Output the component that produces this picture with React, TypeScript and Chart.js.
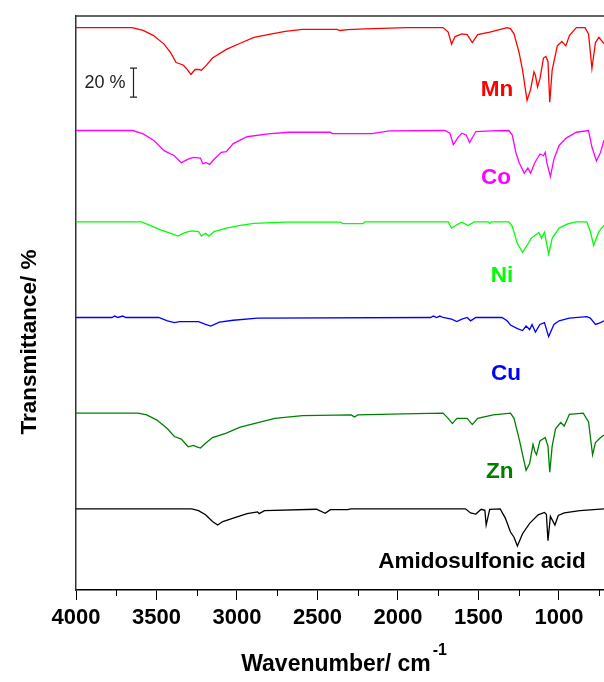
import { useEffect, useRef } from "react";
import { Chart, registerables } from "chart.js";

Chart.register(...registerables);

// ---- axis ticks ----
const X_TICKS = [4000, 3500, 3000, 2500, 2000, 1500, 1000];
const X_MINOR_TICKS = [3750, 3250, 2750, 2250, 1750, 1250, 750];

// ---- series (wavenumber / transmittance %, baseline = 100) ----
const WN_MN = [4000, 3652, 3583, 3518, 3453, 3411, 3378, 3335, 3314, 3286, 3260, 3239, 3221, 3195, 3152, 3066, 2980, 2894, 2808, 2700, 2593, 2380, 2360, 2312, 2205, 1947, 1720, 1688, 1667, 1645, 1603, 1570, 1538, 1505, 1429, 1387, 1322, 1301, 1279, 1247, 1226, 1198, 1176, 1155, 1146, 1133, 1118, 1096, 1081, 1068, 1057, 1042, 1010, 982, 957, 935, 892, 838, 816, 795, 773, 752, 720];
const T_MN = [100, 100, 98.1, 94.5, 88.6, 82.6, 75.9, 74.2, 71.8, 67.7, 71.1, 71.1, 70.6, 73.4, 79, 85, 89.2, 93.3, 95.2, 97.4, 98.8, 98.8, 98, 98.6, 99.1, 100, 100, 96.9, 88.6, 93.8, 95.7, 95.2, 89.7, 95.2, 96.9, 98.1, 100, 99.3, 95.7, 82.6, 70.6, 49.8, 57.4, 69.4, 67, 59.1, 64.6, 79, 80.1, 76.6, 48.6, 70.6, 87.4, 90.4, 87.4, 94.5, 100, 100, 95.7, 71.8, 89.7, 93.3, 89];

const WN_CO = [4000, 3647, 3583, 3518, 3453, 3389, 3346, 3303, 3271, 3227, 3212, 3191, 3169, 3142, 3098, 3066, 3023, 2937, 2808, 2678, 2420, 2409, 2162, 2054, 1710, 1677, 1656, 1624, 1603, 1576, 1555, 1516, 1419, 1311, 1290, 1268, 1247, 1215, 1193, 1176, 1150, 1118, 1096, 1085, 1075, 1053, 1031, 999, 957, 892, 816, 795, 767, 741, 720];
const T_CO = [100, 100, 97.7, 93.3, 86.1, 82.6, 77.8, 80.2, 81.4, 80.9, 77.1, 77.8, 76.6, 80.2, 85, 85.4, 91, 95.7, 97.7, 98.8, 98.8, 97.9, 97.9, 99.8, 100, 98.1, 90.2, 95.6, 98.1, 96.9, 91.7, 99.3, 99.7, 100, 96.9, 85, 77.8, 70.6, 74.2, 70.6, 77.8, 83.8, 82.6, 85, 77.8, 68.2, 80.2, 89.7, 94.6, 98.8, 100, 88.6, 79, 85, 93.3];

const WN_NI = [4000, 3593, 3540, 3475, 3411, 3368, 3324, 3281, 3239, 3221, 3195, 3174, 3142, 3066, 2980, 2894, 2700, 2355, 2345, 2216, 2205, 1688, 1667, 1634, 1603, 1564, 1527, 1440, 1430, 1420, 1311, 1290, 1258, 1226, 1198, 1172, 1146, 1124, 1108, 1090, 1064, 1042, 999, 945, 892, 827, 805, 784, 752, 720];
const T_NI = [100, 100, 97.6, 94.5, 92.1, 90.2, 92.6, 93.8, 93.3, 90.2, 92.1, 90.2, 93.3, 95.7, 97.6, 99, 99.8, 99.8, 98.8, 98.8, 100, 100, 95.7, 98, 99.8, 97.4, 100, 100, 99, 100, 100, 96.9, 85, 79, 83.7, 88.6, 90.9, 92.6, 88.6, 92.8, 77.8, 88.6, 95.7, 98.6, 100, 100, 93.3, 83.7, 93.3, 97.6];

const WN_CU = [4000, 3776, 3760, 3740, 3710, 3690, 3486, 3432, 3389, 3356, 3239, 3195, 3163, 3109, 3023, 2872, 1796, 1780, 1760, 1740, 1720, 1667, 1634, 1603, 1570, 1549, 1516, 1354, 1322, 1301, 1258, 1226, 1204, 1182, 1167, 1146, 1118, 1090, 1064, 1031, 999, 935, 827, 805, 773, 741, 720];
const T_CU = [100, 100, 101, 100, 101, 100, 100, 97.7, 96.5, 97.2, 97.2, 95.2, 94.1, 96.8, 98.1, 99.6, 100, 101, 100, 101, 100, 98.9, 97.2, 98.9, 100, 97.7, 100, 100, 97.7, 94.8, 92.3, 91, 94.1, 91.7, 95.2, 90, 95.2, 96.5, 86.8, 95.2, 97.7, 99.6, 100.6, 99.6, 95.2, 96.5, 97.7];

const WN_ZN = [4000, 3615, 3561, 3497, 3432, 3389, 3346, 3303, 3271, 3249, 3227, 3195, 3152, 3066, 2980, 2894, 2765, 2593, 2291, 2270, 2250, 1968, 1720, 1688, 1662, 1634, 1570, 1538, 1505, 1408, 1301, 1279, 1247, 1204, 1182, 1161, 1150, 1139, 1118, 1085, 1068, 1057, 1042, 1021, 989, 967, 935, 849, 816, 791, 773, 741, 720];
const T_ZN = [100, 100, 98.8, 95.2, 89.2, 83.9, 82.1, 76.8, 77.7, 76.8, 75.9, 79.2, 83.2, 86.3, 90.4, 92.8, 96.4, 98.3, 98.8, 97.4, 98.8, 99.5, 100, 96.4, 92.8, 96.4, 96.4, 92.1, 96.4, 98.8, 100, 96.4, 82.1, 60.6, 65.3, 78.5, 73.7, 71.3, 80.9, 83.2, 77.2, 59.3, 77.2, 89.2, 93.5, 91.1, 99.2, 100, 94, 71.3, 79.7, 83.2, 85];

const WN_AMIDO = [4000, 3281, 3239, 3195, 3152, 3120, 3088, 3023, 2937, 2872, 2862, 2829, 2506, 2452, 2420, 2312, 2291, 1581, 1549, 1516, 1483, 1460, 1452, 1430, 1365, 1333, 1301, 1279, 1258, 1226, 1182, 1129, 1090, 1078, 1068, 1053, 1025, 1004, 967, 870, 720];
const T_AMIDO = [100, 100, 98.8, 95.9, 91.2, 88.8, 91.2, 93.6, 96.7, 97.9, 96.7, 98.8, 99.7, 96.9, 99.4, 99.4, 100, 100, 97.2, 96.4, 99.7, 99, 88.8, 99.7, 100, 93.6, 84, 80.4, 74.4, 82.8, 90, 95.9, 97.5, 96.3, 78, 94.8, 88.8, 95.4, 97.2, 98.8, 100];

const SERIES_NAMES = ["Mn", "Co", "Ni", "Cu", "Zn", "Amidosulfonic acid"];
const SERIES_WN = [WN_MN, WN_CO, WN_NI, WN_CU, WN_ZN, WN_AMIDO];
const SERIES_T = [T_MN, T_CO, T_NI, T_CU, T_ZN, T_AMIDO];
const SERIES_OFFSETS = [288, 217, 154, 88, 22, -44];
const SERIES_COLORS = ["#ff0000", "#ff00ff", "#00ff00", "#0000ff", "#008000", "#000000"];

// label anchors (wavenumber, y-units)
const LABEL_X = [1385, 1391, 1354, 1329, 1367, 1478];
const LABEL_Y = [344.8, 284.1, 216.6, 149, 81.4, 19.3];

// 20 % scale bar
const BAR_X = 3647;
const BAR_Y = [340, 360];
const BAR_TEXT = "20 %";

const FONT = "Arial, 'Liberation Sans', sans-serif";

const decor = {
  id: "decor",
  afterDraw(chart: any) {
    const { ctx, chartArea: a, scales } = chart;
    const xs = scales.x;
    const ys = scales.y;
    ctx.save();
    // top frame line
    ctx.strokeStyle = "#333";
    ctx.lineWidth = 1.5;
    ctx.beginPath();
    ctx.moveTo(a.left, a.top);
    ctx.lineTo(a.right, a.top);
    ctx.stroke();
    // minor ticks
    ctx.strokeStyle = "#000";
    ctx.lineWidth = 1;
    for (const v of X_MINOR_TICKS) {
      const px = Math.round(xs.getPixelForValue(v)) + 0.5;
      ctx.beginPath();
      ctx.moveTo(px, a.bottom);
      ctx.lineTo(px, a.bottom + 6);
      ctx.stroke();
    }
    // series labels
    ctx.font = `bold 22.5px ${FONT}`;
    ctx.textAlign = "center";
    ctx.textBaseline = "middle";
    SERIES_NAMES.forEach((n, i) => {
      ctx.fillStyle = SERIES_COLORS[i];
      ctx.fillText(n, xs.getPixelForValue(LABEL_X[i]), ys.getPixelForValue(LABEL_Y[i]));
    });
    // scale bar
    const bx = Math.round(xs.getPixelForValue(BAR_X)) + 0.5;
    const by0 = ys.getPixelForValue(BAR_Y[0]);
    const by1 = ys.getPixelForValue(BAR_Y[1]);
    ctx.strokeStyle = "#222";
    ctx.lineWidth = 1.2;
    ctx.beginPath();
    ctx.moveTo(bx, by0);
    ctx.lineTo(bx, by1);
    ctx.moveTo(bx - 3.5, by0);
    ctx.lineTo(bx + 3.5, by0);
    ctx.moveTo(bx - 3.5, by1);
    ctx.lineTo(bx + 3.5, by1);
    ctx.stroke();
    ctx.fillStyle = "#222";
    ctx.font = `18px ${FONT}`;
    ctx.textAlign = "right";
    ctx.fillText(BAR_TEXT, bx - 8, (by0 + by1) / 2);
    // y title
    ctx.save();
    ctx.translate(a.left - 46, 342);
    ctx.rotate(-Math.PI / 2);
    ctx.font = `bold 22.5px ${FONT}`;
    ctx.fillStyle = "#000";
    ctx.textAlign = "center";
    ctx.textBaseline = "middle";
    ctx.fillText("Transmittance/ %", 0, 0);
    ctx.restore();
    // x title
    ctx.fillStyle = "#000";
    ctx.textAlign = "left";
    ctx.textBaseline = "alphabetic";
    ctx.font = `bold 23px ${FONT}`;
    const t = "Wavenumber/ cm";
    const w = ctx.measureText(t).width;
    const tx = 336 - w / 2;
    ctx.fillText(t, tx, 671);
    ctx.font = `bold 16px ${FONT}`;
    ctx.fillText("-1", tx + w + 2, 655);
    ctx.restore();
  },
};

export default function App() {
  const ref = useRef<HTMLCanvasElement | null>(null);
  useEffect(() => {
    document.body.style.margin = "0";
    const canvas = ref.current;
    if (!canvas) return;
    const datasets = SERIES_NAMES.map((name, i) => ({
      label: name,
      data: SERIES_WN[i].map((wn, j) => ({ x: wn, y: SERIES_T[i][j] + SERIES_OFFSETS[i] })),
      borderColor: SERIES_COLORS[i],
      backgroundColor: SERIES_COLORS[i],
      borderWidth: 1.3,
      pointRadius: 0,
      tension: 0,
      fill: false,
    }));
    const chart = new Chart(canvas, {
      type: "line",
      data: { datasets },
      options: {
        responsive: false,
        animation: false,
        layout: { padding: { left: 76, top: 16, right: 0, bottom: 0 } },
        plugins: { legend: { display: false }, tooltip: { enabled: false } },
        scales: {
          x: {
            type: "linear",
            reverse: true,
            min: 720,
            max: 4000,
            afterBuildTicks: (s: any) => {
              s.ticks = X_TICKS.map((v) => ({ value: v }));
            },
            afterFit: (s: any) => {
              s.height = 92;
            },
            grid: { drawOnChartArea: false, drawTicks: true, tickLength: 10, color: "#000", lineWidth: 1 },
            border: { display: true, color: "#000", width: 1.5 },
            ticks: {
              autoSkip: false,
              maxRotation: 0,
              color: "#000",
              padding: 5,
              font: { family: FONT, size: 22, weight: "bold" },
              callback: (v: any) => String(v),
            },
          },
          y: {
            min: 0,
            max: 396,
            afterFit: (s: any) => {
              s.width = 0;
            },
            ticks: { display: false },
            grid: { display: true, drawOnChartArea: false, drawTicks: false },
            border: { display: true, color: "#333", width: 1.5 },
          },
        },
      } as any,
      plugins: [decor],
    });
    return () => chart.destroy();
  }, []);
  return (
    <div style={{ width: 604, height: 682 }}>
      <canvas ref={ref} width={604} height={682} style={{ display: "block" }} />
    </div>
  );
}
